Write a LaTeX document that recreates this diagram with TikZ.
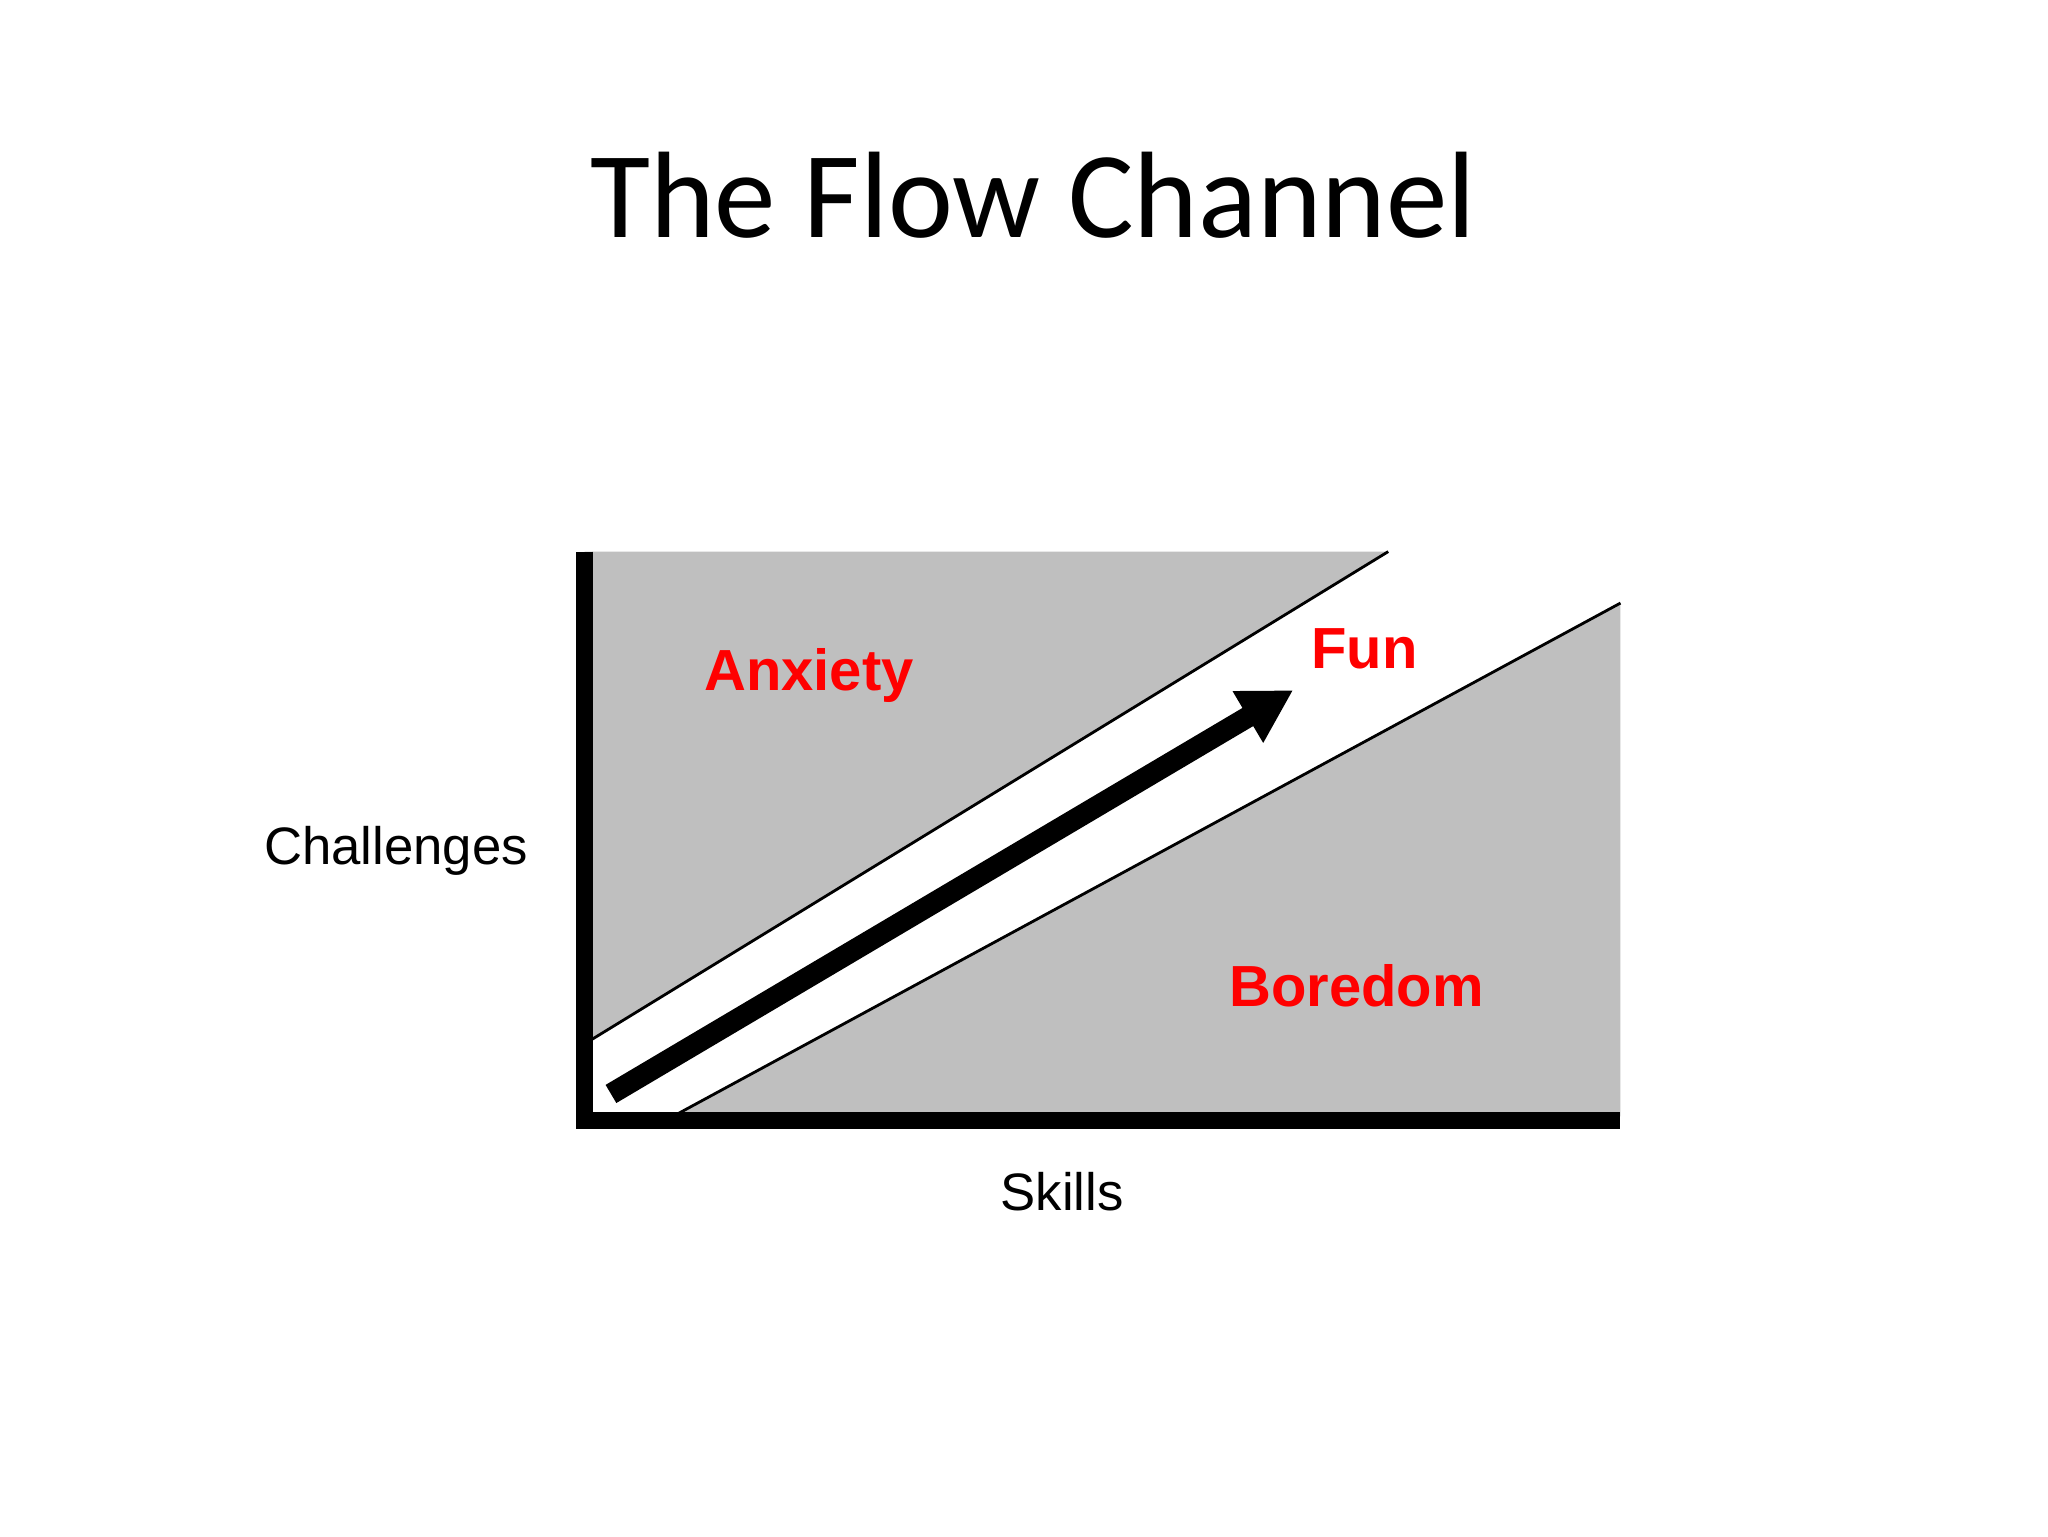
\documentclass[tikz,border=0pt]{standalone}
\usetikzlibrary{arrows.meta}
\usepackage{fontspec}
\setmainfont{Liberation Sans}
\newfontfamily\titlefont{Carlito}
\begin{document}
\begin{tikzpicture}[x=0.013196cm,y=-0.013196cm,
  lab/.style={font=\fontsize{16.5pt}{20pt}\selectfont\bfseries,text=red},
  ax/.style={font=\fontsize{15pt}{18pt}\selectfont}]
\useasboundingbox (0,0) rectangle (1552,1164);
\fill[white] (0,0) rectangle (1552,1164);
\fill[gray!50] (443,418) -- (1052,418) -- (448,788) -- (443,788) -- cycle;
\fill[gray!50] (510,846) -- (1228,457) -- (1228,846) -- cycle;
\draw[line width=0.8pt] (448,788) -- (1052,418);
\draw[line width=0.8pt] (510,846) -- (1228,457);
\draw[line width=5pt] (443,418) -- (443,849) -- (1228,849);
\coordinate (s) at (463,829);
\coordinate (e) at (980,523);
\draw[line width=6pt,-{Triangle[length=15pt,width=16pt]}] (s) -- (e);
\node[font=\titlefont\fontsize{35pt}{42pt}\selectfont] (title) at (783,148) {The Flow Channel};
\node[lab] (anx) at (613,512) {Anxiety};
\node[lab] (fun) at (1034,492) {Fun};
\node[lab] (bor) at (1028,747) {Boredom};
\node[ax] (ch) at (300,645) {Challenges};
\node[ax] (sk) at (805,903) {Skills};
\end{tikzpicture}
\end{document}
